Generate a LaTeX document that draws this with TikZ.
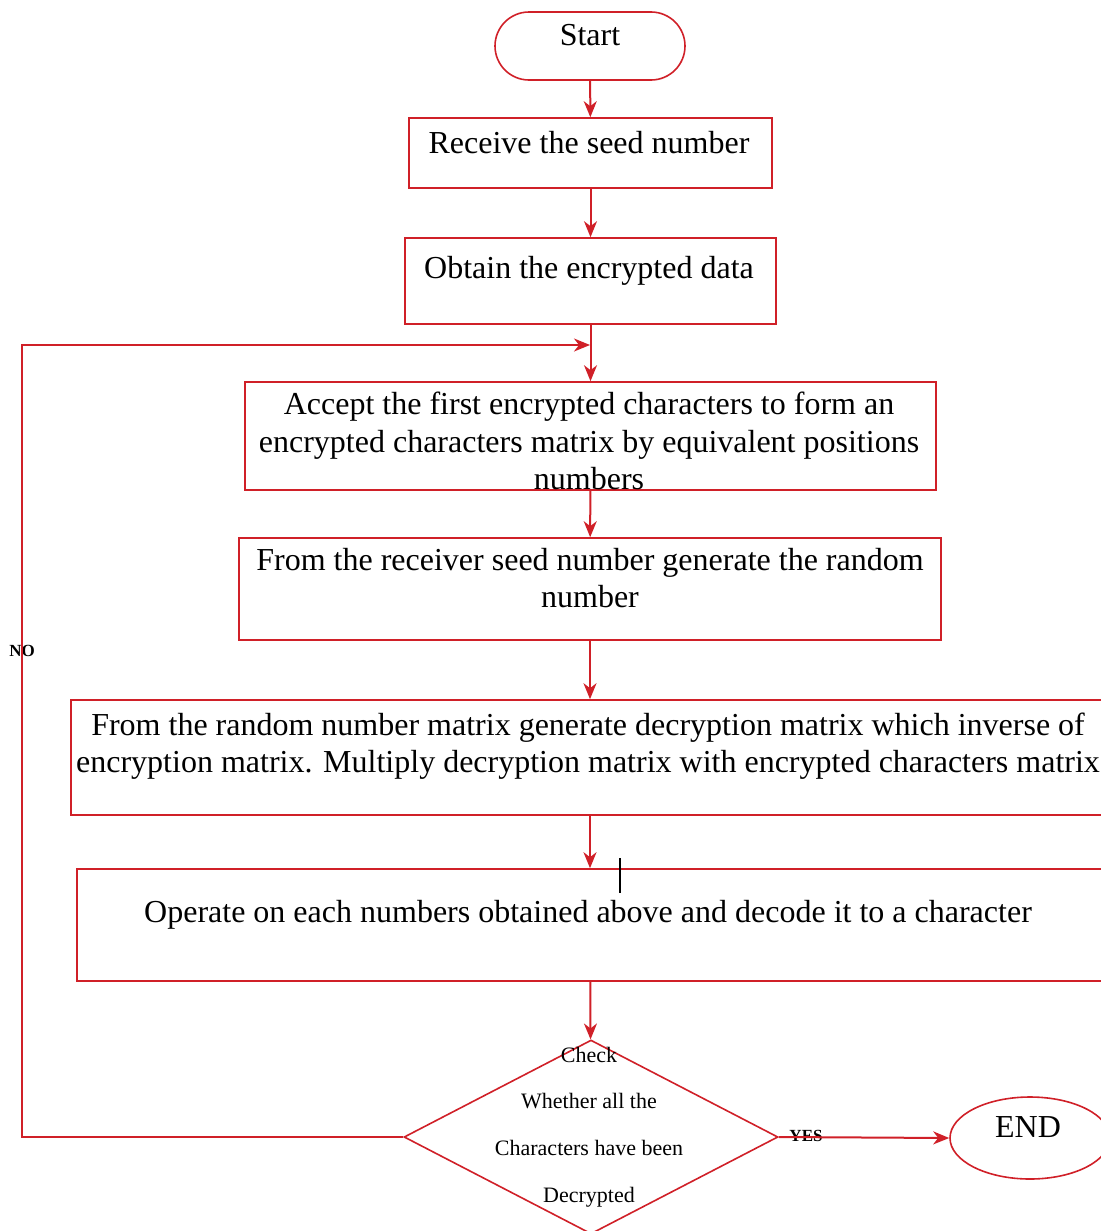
\documentclass[tikz,border=0pt]{standalone}
\usepackage{fontspec}
\setmainfont{Liberation Serif}
\usepackage{tikz}
\usetikzlibrary{arrows.meta,shapes.geometric,fit}
\definecolor{flowred}{RGB}{208,32,40}

\begin{document}
\begin{tikzpicture}[x=0.5pt,y=-0.5pt,
  box/.style={draw=flowred,line width=0.8pt,inner sep=0pt},
  txt/.style={font=\fontsize{16}{18.75}\selectfont,align=center,inner sep=0pt},
  small/.style={font=\fontsize{11}{23.3}\selectfont,align=center,inner sep=0pt},
  tag/.style={font=\bfseries\fontsize{8.5}{10}\selectfont,inner sep=0pt},
  flow/.style={draw=flowred,line width=1pt,-{Stealth[length=8pt,width=6.5pt,inset=2.5pt]}}]
\useasboundingbox (0,0) rectangle (1101,1231);
\node[box,rounded corners=17pt,fit={(495,12) (685,80)}] (start) {};
\node[txt] (starttxt) at (590,35) {Start};
\node[box,fit={(409,118) (772,188)}] (seed) {};
\node[txt] (seedtxt) at (589,143) {Receive the seed number};
\node[box,fit={(405,238) (776,324)}] (data) {};
\node[txt] (datatxt) at (589,271) {Obtain the encrypted data};
\node[box,fit={(245,382) (936,490)}] (accept) {};
\node[txt] (accepttxt) at (589,441) {Accept the first encrypted characters to form an\\
encrypted characters matrix by equivalent positions\\ numbers};
\node[box,fit={(239,538) (941,640)}] (gen) {};
\node[txt] (gentxt) at (590,578) {From the receiver seed number generate the random\\ number};
\node[box,fit={(71,700) (1109,815)}] (mult) {};
\node[txt] (multtxt) at (588,746) {From the random number matrix generate decryption matrix which inverse of\\
encryption matrix. Multiply decryption matrix with encrypted characters matrix};
\node[box,fit={(77,869) (1103,981)}] (decode) {};
\node[txt] (decodetxt) at (588,915) {Operate on each numbers obtained above and decode it to a character};
\node[box,diamond,minimum width=187pt,minimum height=97pt] (check) at (591,1137) {};
\node[small] (checktxt) at (589,1127) {Check\\ Whether all the\\ Characters have been\\ Decrypted};
\node[box,ellipse,minimum width=80pt,minimum height=41pt] (stop) at (1030,1138) {};
\node[txt] (stoptxt) at (1028,1127) {END};
\node[tag] (yes) at (806,1136) {YES};
\node[tag] (no) at (22,651) {NO};
\coordinate (noturn) at (22,1137);
\coordinate (notop) at (22,345);
\coordinate (back) at (590,345);
\draw[flow] (start) -- (seed);
\draw[flow] (seed) -- (data);
\draw[flow] (data) -- (accept);
\draw[flow] (accept) -- (gen);
\draw[flow] (gen) -- (mult);
\draw[flow] (mult) -- (decode);
\draw[flow] (decode) -- (check);
\draw[flow] (check.west) -- (noturn) -- (notop) -- (back);
\draw[flow] (check.east) -- (stop.west);
\draw[black,line width=0.7pt] (620,858) -- (620,893);
\end{tikzpicture}
\end{document}
